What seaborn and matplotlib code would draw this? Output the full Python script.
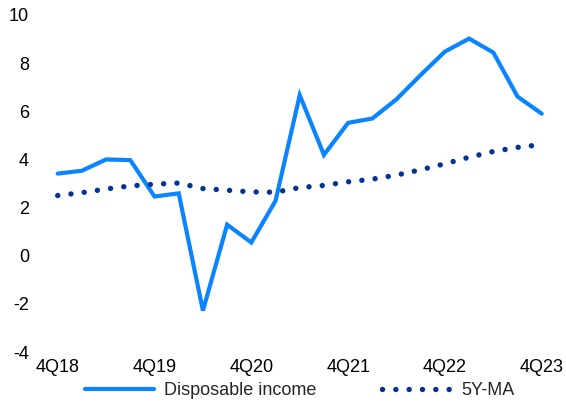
import matplotlib
matplotlib.use("Agg")
import matplotlib.pyplot as plt
import seaborn as sns
import pandas as pd

quarters = ["4Q18", "1Q19", "2Q19", "3Q19", "4Q19", "1Q20", "2Q20", "3Q20", "4Q20",
            "1Q21", "2Q21", "3Q21", "4Q21", "1Q22", "2Q22", "3Q22", "4Q22",
            "1Q23", "2Q23", "3Q23", "4Q23"]
disposable_income = [3.41, 3.53, 4.00, 3.97, 2.46, 2.59, -2.28, 1.29, 0.55, 2.28, 6.67,
                     4.19, 5.52, 5.70, 6.50, 7.51, 8.48, 9.02, 8.44, 6.61, 5.90]
ma_5y = [2.50, 2.62, 2.77, 2.90, 2.97, 3.02, 2.79, 2.72, 2.65, 2.64, 2.83,
         2.92, 3.07, 3.18, 3.35, 3.57, 3.82, 4.09, 4.33, 4.50, 4.62]
tick_labels = ["4Q18", "4Q19", "4Q20", "4Q21", "4Q22", "4Q23"]
y_ticks = [-4, -2, 0, 2, 4, 6, 8, 10]

sns.set_theme(style="white")
plt.rcParams["font.family"] = ["Liberation Sans", "DejaVu Sans"]

df = pd.DataFrame({"idx": range(len(quarters)), "quarter": quarters,
                   "Disposable income": disposable_income, "5Y-MA": ma_5y})

fig = plt.figure(figsize=(5.66, 4.04), dpi=100)
ax = fig.add_axes([0.0806, 0.1287, 0.8979, 0.8342])

sns.lineplot(data=df, x="idx", y="Disposable income", ax=ax, color="#0A84FF",
             linewidth=3.0, label="Disposable income", solid_joinstyle="miter")
sns.lineplot(data=df, x="idx", y="5Y-MA", ax=ax, color="#003399",
             linewidth=3.9, linestyle=(0, (0.01, 2.45)), dash_capstyle="round",
             label="5Y-MA")

ax.set_xlim(-0.5, len(quarters) - 0.5)
ax.set_ylim(-4, 10)
ax.set_yticks(y_ticks)
ax.set_yticklabels([str(v) for v in y_ticks])
ax.set_xticks([quarters.index(q) for q in tick_labels])
ax.set_xticklabels(tick_labels)
ax.set_xlabel("")
ax.set_ylabel("")
for s in ax.spines.values():
    s.set_visible(False)
ax.tick_params(axis="both", length=0, labelsize=13, colors="#000000")
ax.tick_params(axis="y", pad=12)
ax.tick_params(axis="x", pad=5)
ax.grid(False)

leg = ax.legend(loc="center", bbox_to_anchor=(0.5, -0.115), ncol=2, frameon=False,
                fontsize=13, handlelength=3.8, columnspacing=3.6, handletextpad=0.6)

fig.savefig("out.png", dpi=100)
